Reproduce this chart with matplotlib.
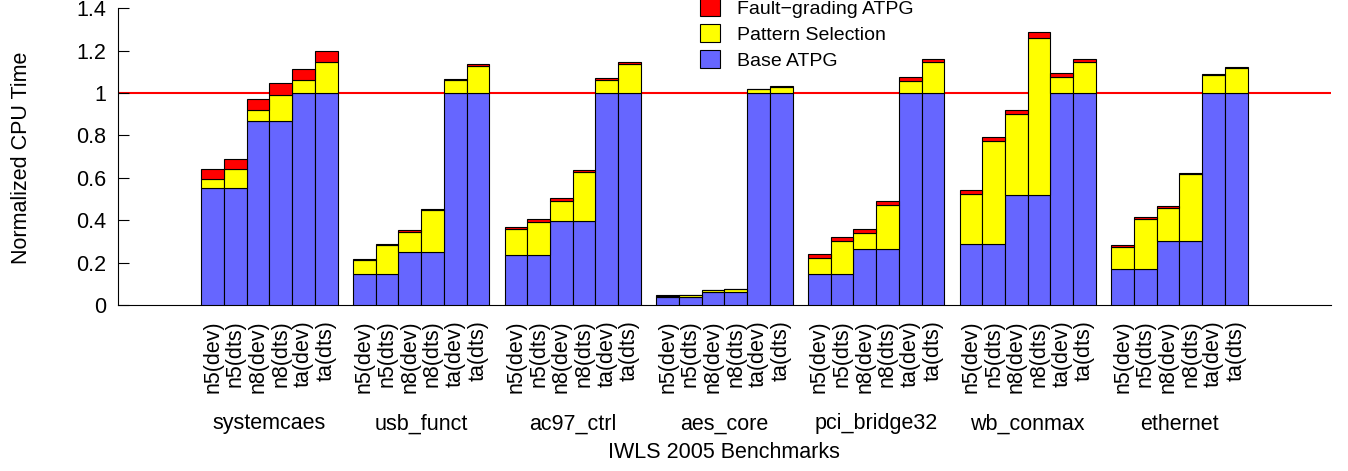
import matplotlib
matplotlib.use("Agg")
import matplotlib.pyplot as plt
import numpy as np

plt.rcParams['font.family'] = ['Liberation Sans', 'DejaVu Sans']

# ---------------- data ----------------
benchmarks = ["systemcaes", "usb_funct", "ac97_ctrl", "aes_core",
              "pci_bridge32", "wb_conmax", "ethernet"]
configs = ["n5(dev)", "n5(dts)", "n8(dev)", "n8(dts)", "ta(dev)", "ta(dts)"]

base_atpg = [
    [0.550, 0.550, 0.866, 0.866, 1.000, 1.000],   # systemcaes
    [0.148, 0.148, 0.248, 0.248, 1.000, 1.000],   # usb_funct
    [0.236, 0.236, 0.398, 0.398, 1.000, 1.000],   # ac97_ctrl
    [0.036, 0.036, 0.060, 0.060, 1.000, 1.000],   # aes_core
    [0.145, 0.145, 0.263, 0.263, 1.000, 1.000],   # pci_bridge32
    [0.286, 0.286, 0.519, 0.519, 1.000, 1.000],   # wb_conmax
    [0.168, 0.168, 0.302, 0.302, 1.000, 1.000],   # ethernet
]
pattern_selection = [
    [0.043, 0.092, 0.054, 0.126, 0.061, 0.146],
    [0.064, 0.135, 0.098, 0.200, 0.061, 0.127],
    [0.122, 0.157, 0.093, 0.228, 0.060, 0.135],
    [0.008, 0.011, 0.011, 0.014, 0.020, 0.030],
    [0.075, 0.158, 0.078, 0.209, 0.057, 0.145],
    [0.239, 0.486, 0.382, 0.742, 0.077, 0.145],
    [0.107, 0.239, 0.156, 0.314, 0.083, 0.116],
]
fault_grading = [
    [0.049, 0.048, 0.052, 0.054, 0.051, 0.051],
    [0.006, 0.006, 0.006, 0.006, 0.007, 0.008],
    [0.011, 0.013, 0.012, 0.011, 0.009, 0.010],
    [0.002, 0.002, 0.001, 0.001, 0.001, 0.001],
    [0.019, 0.019, 0.017, 0.019, 0.018, 0.017],
    [0.016, 0.020, 0.019, 0.028, 0.016, 0.015],
    [0.007, 0.007, 0.007, 0.007, 0.007, 0.007],
]
yticks = [0, 0.2, 0.4, 0.6, 0.8, 1.0, 1.2, 1.4]
ytick_labels = ["0", "0.2", "0.4", "0.6", "0.8", "1", "1.2", "1.4"]

# ---------------- layout ----------------
W, H = 1348, 471
fig = plt.figure(figsize=(W / 100, H / 100), dpi=100)
ax_l, ax_r, ax_t, ax_b = 118, 1330.7, 8.2, 305
ax = fig.add_axes([ax_l / W, (H - ax_b) / H, (ax_r - ax_l) / W, (ax_b - ax_t) / H])

stride = 6.675
ng, nc = len(benchmarks), len(configs)
x = np.array([g * stride + i for g in range(ng) for i in range(nc)])
base = np.array(base_atpg).ravel()
pat = np.array(pattern_selection).ravel()
flt = np.array(fault_grading).ravel()

blue, yellow, red = "#6666ff", "#ffff00", "#ff0000"
ekw = dict(width=1.0, edgecolor="black", linewidth=0.8, zorder=3)
b1 = ax.bar(x, base, color=blue, label="Base ATPG", **ekw)
b2 = ax.bar(x, pat, bottom=base, color=yellow, label="Pattern Selection", **ekw)
b3 = ax.bar(x, flt, bottom=base + pat, color=red, label="Fault\u2212grading ATPG", **ekw)

ax.axhline(1.0, color="red", linewidth=1.5, zorder=1)

ax.set_xlim(-4.166, 49.21)
ax.set_ylim(0, 1.4)
ax.set_yticks(yticks, ytick_labels)
ax.set_xticks(x, configs * ng, rotation=90, va="top", ha="center")
ax.tick_params(axis="y", direction="in", length=7.9, width=0.8, pad=8.6,
               labelsize=15.5, colors="black")
ax.tick_params(axis="x", length=0, pad=10.8, labelsize=15.5)

for s in ("top", "right"):
    ax.spines[s].set_visible(False)
for s in ("left", "bottom"):
    ax.spines[s].set_linewidth(0.8)

# group labels
ax_h = ax_b - ax_t
for g, name in enumerate(benchmarks):
    cx = g * stride + (nc - 1) / 2
    ax.text(cx, (ax_b - 424) / ax_h, name, transform=ax.get_xaxis_transform(),
            ha="center", va="center", fontsize=15.5)

ax.set_xlabel("IWLS 2005 Benchmarks", fontsize=15.5, va="center")
ax.xaxis.set_label_coords(0.5, (ax_b - 453) / ax_h)
ax.set_ylabel("Normalized CPU Time", fontsize=15.5, va="center")
ax.yaxis.set_label_coords((22 - ax_l) / (ax_r - ax_l), 0.497)

leg = fig.legend(handles=[b3, b2, b1], loc="upper left",
                 bbox_to_anchor=(700 / W, (H + 1.8) / H),
                 frameon=False, fontsize=14, borderpad=0, borderaxespad=0,
                 handlelength=1.03, handleheight=1.0, handletextpad=0.88,
                 labelspacing=0.34)

fig.savefig("out.png", dpi=100)
